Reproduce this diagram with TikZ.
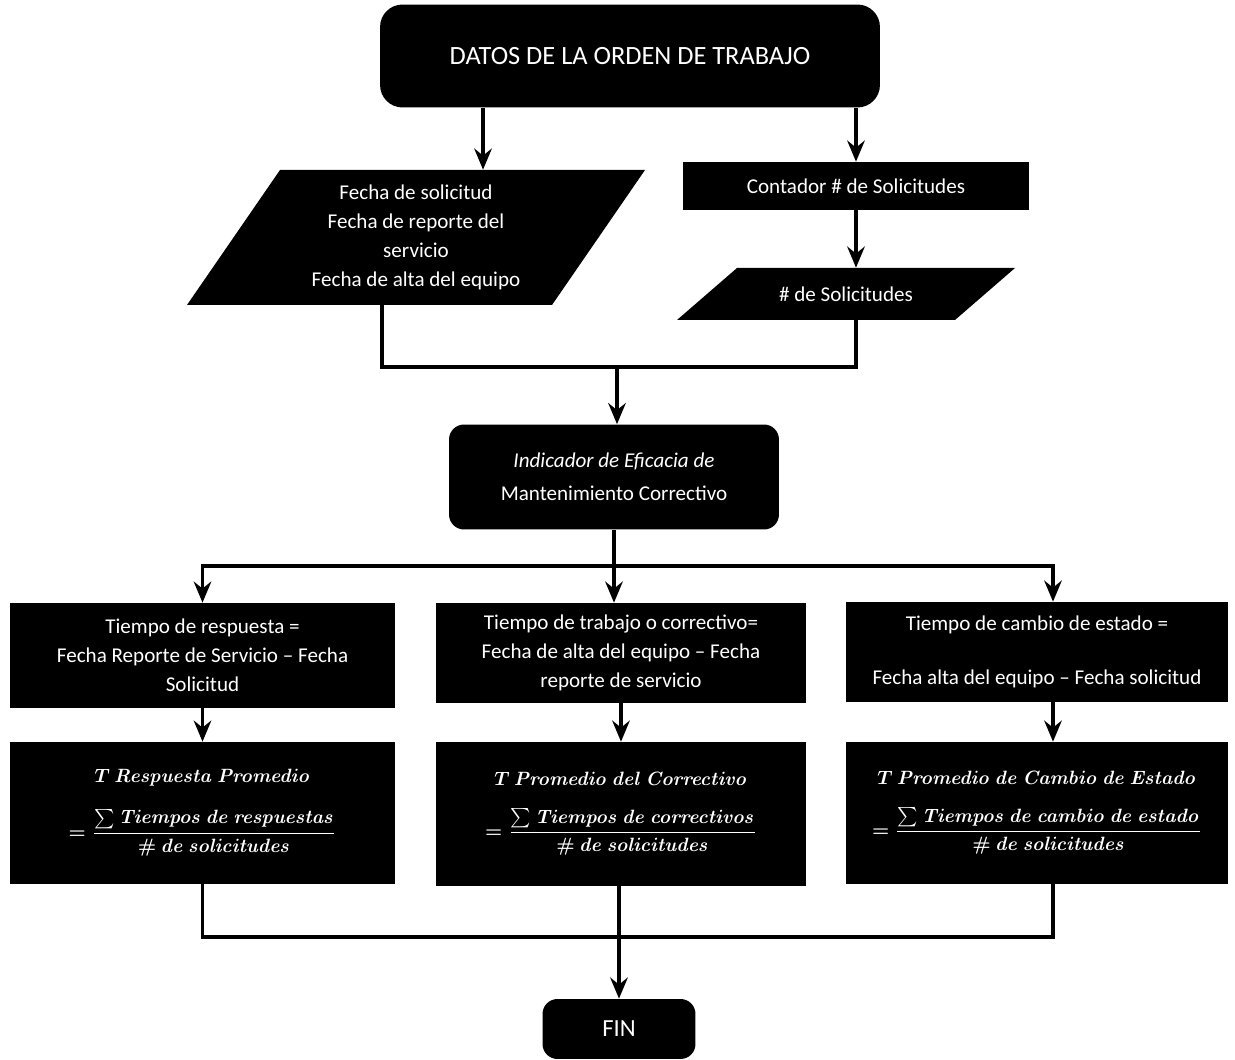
\documentclass[tikz,border=0pt]{standalone}
\usepackage{amsmath,amssymb}
\usepackage[no-math]{fontspec}
\setmainfont{Carlito}
\usetikzlibrary{arrows.meta}

\begin{document}
\begin{tikzpicture}[x=0.02cm, y=-0.02cm,
	every node/.style={font=\fontsize{12}{16.5}\selectfont},
	caja/.style={fill=black, text=white, align=center, inner sep=2pt},
	texto/.style={text=white, align=center, inner sep=0pt},
	formula/.style={caja, font=\fontsize{11}{16}\selectfont\boldmath},
	linea/.style={draw=black, line width=1.8pt},
	flecha/.style={linea, -{Stealth[length=12pt,width=10pt,inset=4pt]}}]
	\useasboundingbox (0,0) rectangle (1235,1060);
	% inicio
	\node[caja, rounded corners=0.45cm, minimum width=10cm, minimum height=2.06cm,
		font=\fontsize{15}{18}\selectfont] (datos) at (630,56) {DATOS DE LA ORDEN DE TRABAJO};
	% entradas
	\fill (280,170) -- (645,170) -- (552,305) -- (187,305) -- cycle;
	\node[texto, minimum width=5cm, minimum height=2.7cm] (fechas) at (416,237.5)
		{Fecha de solicitud\\ Fecha de reporte del\\ servicio\\ Fecha de alta del equipo};
	\node[caja, minimum width=6.94cm, minimum height=0.96cm] (contador) at (856,186) {Contador \# de Solicitudes};
	\fill (737,268) -- (1015,268) -- (955,320) -- (677,320) -- cycle;
	\node[texto, minimum width=4cm, minimum height=1.04cm] (nsol) at (846,294) {\# de Solicitudes};
	\node[caja, rounded corners=0.3cm, minimum width=6.6cm, minimum height=2.1cm] (indicador) at (614,477)
		{\textit{Indicador de Eficacia de}\\[2pt] Mantenimiento Correctivo};
	% tiempos
	\node[caja, minimum width=7.7cm, minimum height=2.1cm] (resp) at (202.5,655.5)
		{Tiempo de respuesta =\\ Fecha Reporte de Servicio -- Fecha\\ Solicitud};
	\node[caja, minimum width=7.4cm, minimum height=2.0cm] (trab) at (621,653)
		{Tiempo de trabajo o correctivo=\\ Fecha de alta del equipo -- Fecha\\ reporte de servicio};
	\node[caja, minimum width=7.64cm, minimum height=2.0cm] (camb) at (1037,652)
		{Tiempo de cambio de estado =\\[14pt] Fecha alta del equipo -- Fecha solicitud};
	% promedios
	\node[formula, minimum width=7.7cm, minimum height=2.84cm] (rprom) at (202.5,813)
		{$T\ \mathit{Respuesta\ Promedio}$\\[12pt]
		$\displaystyle =\frac{\sum \mathit{Tiempos\ de\ respuestas}}{\#\ \mathit{de\ solicitudes}}$};
	\node[formula, minimum width=7.4cm, minimum height=2.88cm] (tprom) at (621,814)
		{$T\ \mathit{Promedio\ del\ Correctivo}$\\[12pt]
		$\displaystyle =\frac{\sum \mathit{Tiempos\ de\ correctivos}}{\#\ \mathit{de\ solicitudes}}$};
	\node[formula, minimum width=7.64cm, minimum height=2.84cm] (cprom) at (1037,813)
		{$T\ \mathit{Promedio\ de\ Cambio\ de\ Estado}$\\[12pt]
		$\displaystyle =\frac{\sum \mathit{Tiempos\ de\ cambio\ de\ estado}}{\#\ \mathit{de\ solicitudes}}$};
	\node[caja, rounded corners=0.3cm, minimum width=3.06cm, minimum height=1.2cm,
		font=\fontsize{14}{16}\selectfont] (fin) at (619,1029) {FIN};
	% conectores
	\draw[flecha] ([xshift=-2.94cm]datos.south) -- ([xshift=-2.94cm]datos.south |- fechas.north);
	\draw[flecha] (datos.south -| contador.north) -- (contador.north);
	\draw[flecha] (contador.south) -- (contador.south |- nsol.north);
	\coordinate (une) at (617,367);
	\draw[linea] ([xshift=-0.68cm]fechas.south) |- (une) -| (contador.south |- nsol.south);
	\draw[flecha] (une) -- (une |- indicador.north);
	\coordinate (rama) at (614,566);
	\draw[linea] (indicador.south) -- (rama);
	\draw[flecha] (rama) -| (resp.north);
	\draw[flecha] (rama) -- (rama |- trab.north);
	\draw[flecha] (rama) -| ([xshift=0.32cm]camb.north);
	\draw[flecha] (resp.south) -- (rprom.north);
	\draw[flecha] (trab.south) -- (tprom.north);
	\draw[flecha] ([xshift=0.32cm]camb.south) -- ([xshift=0.32cm]cprom.north);
	\coordinate (junta) at (619,937);
	\draw[linea] (rprom.south) |- (junta) -| ([xshift=0.32cm]cprom.south);
	\draw[flecha] (tprom.south -| fin.north) -- (fin.north);
\end{tikzpicture}
\end{document}
